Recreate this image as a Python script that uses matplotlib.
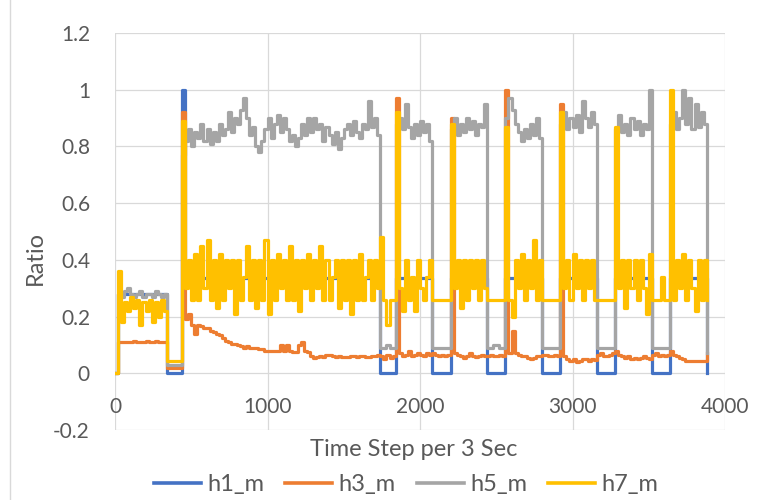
import numpy as np
import matplotlib.pyplot as plt
from matplotlib.lines import Line2D

# values, one sample every 20 time steps (0 .. 3880)
step = 20

h1_m = ([0.0] + [0.28] * 16 + [0.0] * 5 + [1.0] + [0.335] * 64
        + [0.0] * 5 + [0.335] * 12 + [0.0] * 6 + [0.335] * 12
        + [0.0] * 6 + [0.335] * 12 + [0.0] * 6 + [0.335] * 12
        + [0.0] * 6 + [0.335] * 12 + [0.0] * 6 + [0.335] * 12 + [0.0])

h3_m = [
    0.0,
    0.11, 0.11, 0.11, 0.11, 0.11, 0.115, 0.11, 0.11, 0.11, 0.115, 0.11,
    0.11, 0.115, 0.11, 0.11, 0.11,
    0.02, 0.02, 0.02, 0.02, 0.02,
    0.92, 0.19, 0.21, 0.17, 0.14, 0.17, 0.165, 0.16, 0.16, 0.15,
    0.145, 0.14, 0.135, 0.125, 0.115, 0.11, 0.105, 0.105, 0.1, 0.095,
    0.09, 0.095, 0.09, 0.09, 0.088, 0.085, 0.085, 0.08, 0.08, 0.08,
    0.078, 0.078, 0.1, 0.08, 0.1, 0.078, 0.075, 0.075, 0.1, 0.11,
    0.08, 0.075, 0.06, 0.055, 0.058, 0.06, 0.058, 0.065, 0.065, 0.06,
    0.058, 0.06, 0.058, 0.056, 0.058, 0.06, 0.06, 0.058, 0.062, 0.06,
    0.058, 0.056, 0.062, 0.06, 0.066,
    0.06, 0.05, 0.065, 0.055, 0.06,
    0.97, 0.07, 0.06, 0.065, 0.08, 0.06, 0.065, 0.07, 0.065, 0.06, 0.07, 0.065,
    0.07, 0.065, 0.06, 0.065, 0.06, 0.065,
    0.9, 0.07, 0.065, 0.06, 0.055, 0.06, 0.07, 0.06, 0.058, 0.06, 0.065, 0.06,
    0.06, 0.065, 0.06, 0.06, 0.065, 0.06,
    1.0, 0.07, 0.15, 0.07, 0.065, 0.06, 0.06, 0.055, 0.05, 0.055, 0.06, 0.06,
    0.065, 0.065, 0.06, 0.06, 0.065, 0.06,
    0.95, 0.06, 0.05, 0.045, 0.05, 0.04, 0.045, 0.05, 0.05, 0.045, 0.05, 0.048,
    0.065, 0.07, 0.06, 0.06, 0.065, 0.07,
    0.08, 0.065, 0.06, 0.055, 0.06, 0.05, 0.055, 0.05, 0.055, 0.06, 0.055, 0.05,
    0.065, 0.07, 0.06, 0.065, 0.06, 0.065,
    0.08, 0.065, 0.06, 0.055, 0.05, 0.045, 0.045, 0.045, 0.045, 0.045, 0.045,
    0.045,
    0.07]

h5_m = [
    0.0,
    0.28, 0.27, 0.29, 0.3, 0.28, 0.27, 0.28, 0.29, 0.27, 0.28, 0.28, 0.27,
    0.29, 0.28, 0.27, 0.28,
    0.03, 0.03, 0.03, 0.03, 0.03,
    0.77, 0.82, 0.86, 0.80, 0.85, 0.83, 0.88, 0.82, 0.86, 0.81,
    0.85, 0.82, 0.88, 0.84,
    0.86, 0.92, 0.85, 0.90, 0.88, 0.93, 0.97, 0.90, 0.84,
    0.87, 0.80, 0.78, 0.82, 0.86, 0.90, 0.83, 0.88,
    0.91, 0.85, 0.90, 0.86, 0.82, 0.84, 0.80, 0.83,
    0.88, 0.84, 0.90, 0.85, 0.90, 0.86, 0.88, 0.82, 0.87, 0.84,
    0.81, 0.85, 0.79, 0.83, 0.86, 0.88, 0.84, 0.89, 0.85,
    0.83, 0.88, 0.86, 0.96, 0.87, 0.90, 0.84,
    0.09, 0.09, 0.10, 0.09, 0.09,
    0.88, 0.90, 0.86, 0.95, 0.87, 0.83, 0.88, 0.84, 0.89, 0.85, 0.88, 0.82,
    0.09, 0.09, 0.09, 0.09, 0.09, 0.09,
    0.86, 0.90, 0.84, 0.88, 0.85, 0.90, 0.86, 0.89, 0.84, 0.88, 0.87, 0.95,
    0.09, 0.09, 0.10, 0.10, 0.09, 0.09,
    0.90, 0.97, 0.93, 0.88, 0.85, 0.82, 0.86, 0.83, 0.88, 0.84, 0.90, 0.83,
    0.09, 0.09, 0.09, 0.09, 0.09, 0.09,
    0.88, 0.92, 0.86, 0.90, 0.87, 0.91, 0.85, 0.96, 0.90, 0.87, 0.92, 0.88,
    0.09, 0.09, 0.09, 0.09, 0.09, 0.09,
    0.86, 0.91, 0.85, 0.88, 0.84, 0.90, 0.86, 0.89, 0.84, 0.88, 0.86, 1.0,
    0.09, 0.09, 0.09, 0.09, 0.09, 0.09,
    0.88, 0.92, 0.86, 0.90, 1.0, 0.88, 0.97, 0.86, 0.95, 0.87, 0.92, 0.88,
    0.07]

h7_m = [
    0.0,
    0.36, 0.18, 0.25, 0.22, 0.27, 0.23, 0.26, 0.17, 0.25, 0.22, 0.26, 0.18,
    0.25, 0.2, 0.26, 0.22,
    0.045, 0.045, 0.045, 0.045, 0.045,
    0.89,
    0.3, 0.4, 0.26, 0.42, 0.26, 0.45, 0.3, 0.47, 0.26,
    0.4, 0.23, 0.42, 0.26, 0.4, 0.3, 0.4, 0.21,
    0.4, 0.26, 0.34, 0.45, 0.26, 0.4, 0.23, 0.4,
    0.26, 0.47, 0.21, 0.4, 0.26, 0.42, 0.3, 0.4,
    0.26, 0.45, 0.26, 0.4, 0.22, 0.4, 0.3, 0.42,
    0.26, 0.4, 0.3, 0.45, 0.26, 0.4, 0.26, 0.34,
    0.4, 0.23, 0.4, 0.26, 0.4, 0.21, 0.4, 0.26,
    0.42, 0.26, 0.34, 0.4, 0.26, 0.4, 0.3,
    0.48, 0.26, 0.17, 0.26, 0.26,
    0.92, 0.3, 0.22, 0.4, 0.26, 0.34, 0.22, 0.4, 0.3, 0.26, 0.34, 0.4,
    0.26, 0.26, 0.26, 0.26, 0.26, 0.26,
    0.88, 0.3, 0.4, 0.23, 0.4, 0.26, 0.4, 0.3, 0.4, 0.26, 0.4, 0.3,
    0.26, 0.26, 0.26, 0.26, 0.26, 0.26,
    0.87, 0.26, 0.2, 0.4, 0.3, 0.42, 0.26, 0.4, 0.3, 0.47, 0.26, 0.4,
    0.26, 0.26, 0.26, 0.26, 0.26, 0.26,
    0.92, 0.3, 0.4, 0.26, 0.42, 0.3, 0.4, 0.26, 0.4, 0.3, 0.4, 0.26,
    0.26, 0.26, 0.26, 0.26, 0.26, 0.26,
    0.87, 0.3, 0.4, 0.23, 0.4, 0.3, 0.4, 0.26, 0.4, 0.3, 0.21, 0.42,
    0.26, 0.26, 0.26, 0.34, 0.26, 0.26,
    1.0, 0.26, 0.4, 0.3, 0.42, 0.26, 0.4, 0.3, 0.22, 0.4, 0.26, 0.4,
    0.26]

names = ['h1_m', 'h3_m', 'h5_m', 'h7_m']
colors = ['#4472C4', '#ED7D31', '#A5A5A5', '#FFC000']
x_ticks = [0, 1000, 2000, 3000, 4000]
y_ticks = [-0.2, 0, 0.2, 0.4, 0.6, 0.8, 1.0, 1.2]
y_labels = ['-0.2', '0', '0.2', '0.4', '0.6', '0.8', '1', '1.2']


def main():
    plt.rcParams['font.family'] = ['Lato', 'DejaVu Sans']
    txt_c = '#595959'

    fig = plt.figure(figsize=(7.65, 5.0), dpi=100)
    W, H = 765., 500.
    ax = fig.add_axes([115 / W, 1 - 430 / H, 610 / W, 397 / H])

    series = [h1_m, h3_m, h5_m, h7_m]
    for name, vals, col in zip(names, series, colors):
        t = np.arange(len(vals)) * step
        ax.plot(t, vals, color=col, lw=2.3, drawstyle='steps-post',
                label=name, zorder=3)

    ax.set_xlim(0, 4000)
    ax.set_ylim(-0.2, 1.2)
    ax.set_xticks(x_ticks)
    ax.set_xticklabels([])
    ax.set_yticks(y_ticks)
    ax.set_yticklabels(y_labels, fontsize=15, color=txt_c)
    ax.grid(color='#D9D9D9', lw=0.9)
    ax.set_axisbelow(True)
    for s in ax.spines.values():
        s.set_visible(False)
    ax.tick_params(length=0, pad=18)

    # x labels sit inside the plot, just above the bottom gridline
    for xt in x_ticks:
        ax.text(xt, -0.12, str(xt), ha='center', va='center',
                fontsize=15, color=txt_c)

    fig.text(35 / W, 1 - 258 / H, 'Ratio', rotation=90, ha='center',
             va='center', fontsize=17, color=txt_c)
    fig.text(414 / W, 1 - 450 / H, 'Time Step per 3 Sec', ha='center',
             va='center', fontsize=17, color=txt_c)

    handles = [Line2D([], [], color=c, lw=2.6) for c in colors]
    leg = fig.legend(handles, names, loc='center', ncol=4, frameon=False,
                     bbox_to_anchor=(406 / W, 1 - 485 / H), fontsize=17,
                     handlelength=2.0, handletextpad=0.25, columnspacing=0.9,
                     borderpad=0.1)
    for tx in leg.get_texts():
        tx.set_color(txt_c)

    fig.add_artist(Line2D([10 / W, 10 / W], [0, 1], color='#D9D9D9', lw=1))

    fig.savefig('out.png', dpi=100)


if __name__ == '__main__':
    main()
